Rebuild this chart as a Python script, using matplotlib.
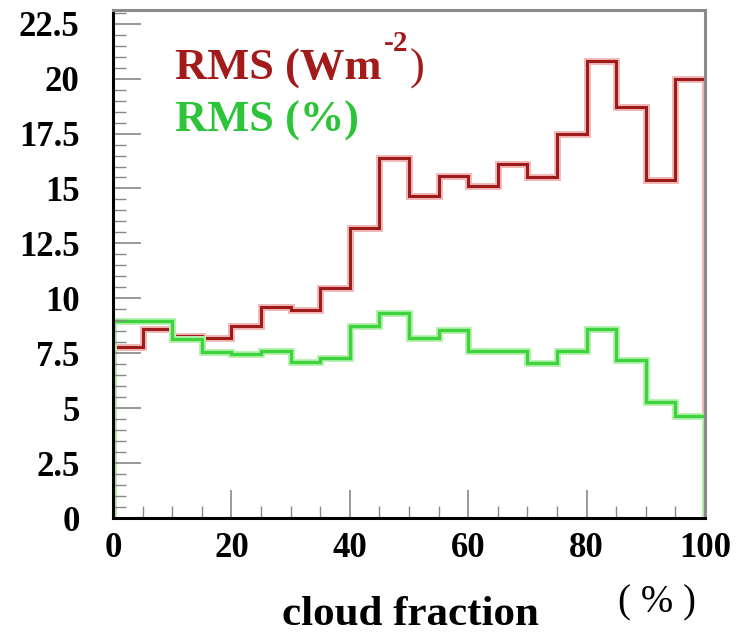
import numpy as np
import matplotlib
matplotlib.use("Agg")
import matplotlib.pyplot as plt

matplotlib.rcParams['font.family'] = 'Liberation Serif'
matplotlib.rcParams['font.weight'] = 'bold'

# cloud fraction bins (%)
bin_edges = [0, 5, 10, 15, 20, 25, 30, 35, 40, 45, 50,
             55, 60, 65, 70, 75, 80, 85, 90, 95, 100]

# RMS in W m^-2
rms_wm2 = [7.8, 8.6, 8.3, 8.2, 8.75, 9.6, 9.45, 10.45, 13.2, 16.4,
           14.65, 15.55, 15.1, 16.1, 15.5, 17.5, 20.8, 18.7, 15.4, 20.0]

# RMS in %
rms_pct = [8.95, 8.95, 8.15, 7.55, 7.45, 7.6, 7.1, 7.3, 8.75, 9.35,
           8.2, 8.55, 7.6, 7.6, 7.05, 7.6, 8.6, 7.2, 5.3, 4.65]

y_ticks = [0, 2.5, 5, 7.5, 10, 12.5, 15, 17.5, 20, 22.5]
y_tick_labels = ['0', '2.5', '5', '7.5', '10', '12.5', '15', '17.5', '20', '22.5']
x_ticks = [0, 20, 40, 60, 80, 100]

red = '#9e1b1b'
green = '#3fd43f'

fig = plt.figure(figsize=(7.36, 6.36), dpi=100)
ax = fig.add_axes([0.1535, 0.1855, 0.8045, 0.799])

# soft halo under the lines, like the scanned original
ax.stairs(rms_wm2, bin_edges, baseline=0, color='#f2b8b8', linewidth=5)
ax.stairs(rms_wm2, bin_edges, baseline=0, color=red, linewidth=2.2)
ax.stairs(rms_pct, bin_edges, baseline=0, color='#b8f2b0', linewidth=5)
ax.stairs(rms_pct, bin_edges, baseline=0, color=green, linewidth=2.4)

ax.set_xlim(0, 100)
ax.set_ylim(0, 23.13)
ax.set_xticks(x_ticks)
ax.set_xticks(np.arange(0, 101, 5), minor=True)
ax.set_yticks(y_ticks)
ax.set_yticklabels(y_tick_labels)
ax.set_yticks(np.arange(0, 23.01, 0.5), minor=True)

ax.tick_params(which='major', direction='in', length=20, width=1.2,
               color='#888888', labelsize=25, top=False, right=False)
ax.tick_params(axis='y', which='major', pad=24)
ax.tick_params(axis='x', which='major', pad=10)
ax.tick_params(which='minor', direction='in', length=9, width=1.0,
               color='#888888', top=False, right=False)

for side in ['left', 'bottom']:
    ax.spines[side].set_linewidth(2.2)
    ax.spines[side].set_color('black')
for side in ['top', 'right']:
    ax.spines[side].set_linewidth(2.2)
    ax.spines[side].set_color('#8a8a8a')

# legend-like labels; superscript drawn as a separate small text
t1 = ax.text(0.105, 0.863, 'RMS (Wm', transform=ax.transAxes,
             fontsize=32, color='#a31a1a', fontweight='bold', va='baseline')
fig.canvas.draw()
bb = t1.get_window_extent()
x_end = ax.transAxes.inverted().transform((bb.x1, bb.y0))[0]
t2 = ax.text(x_end + 0.004, 0.92, '-2', transform=ax.transAxes,
             fontsize=21, color='#a31a1a', fontweight='bold', va='baseline')
fig.canvas.draw()
bb2 = t2.get_window_extent()
x_end2 = ax.transAxes.inverted().transform((bb2.x1, bb2.y0))[0]
ax.text(x_end2 + 0.002, 0.863, ')', transform=ax.transAxes,
        fontsize=32, color='#a31a1a', fontweight='normal', va='baseline')

ax.text(0.105, 0.761, 'RMS (%)', transform=ax.transAxes,
        fontsize=32, color='#2ec43a', fontweight='bold', va='baseline')

fig.text(410 / 736, 1 - 615 / 636, 'cloud fraction', fontsize=31,
         fontweight='bold', ha='center', va='center')
fig.text(657 / 736, 1 - 603 / 636, '( % )', fontsize=28,
         fontweight='normal', ha='center', va='center')

fig.savefig('out.png', dpi=100)
